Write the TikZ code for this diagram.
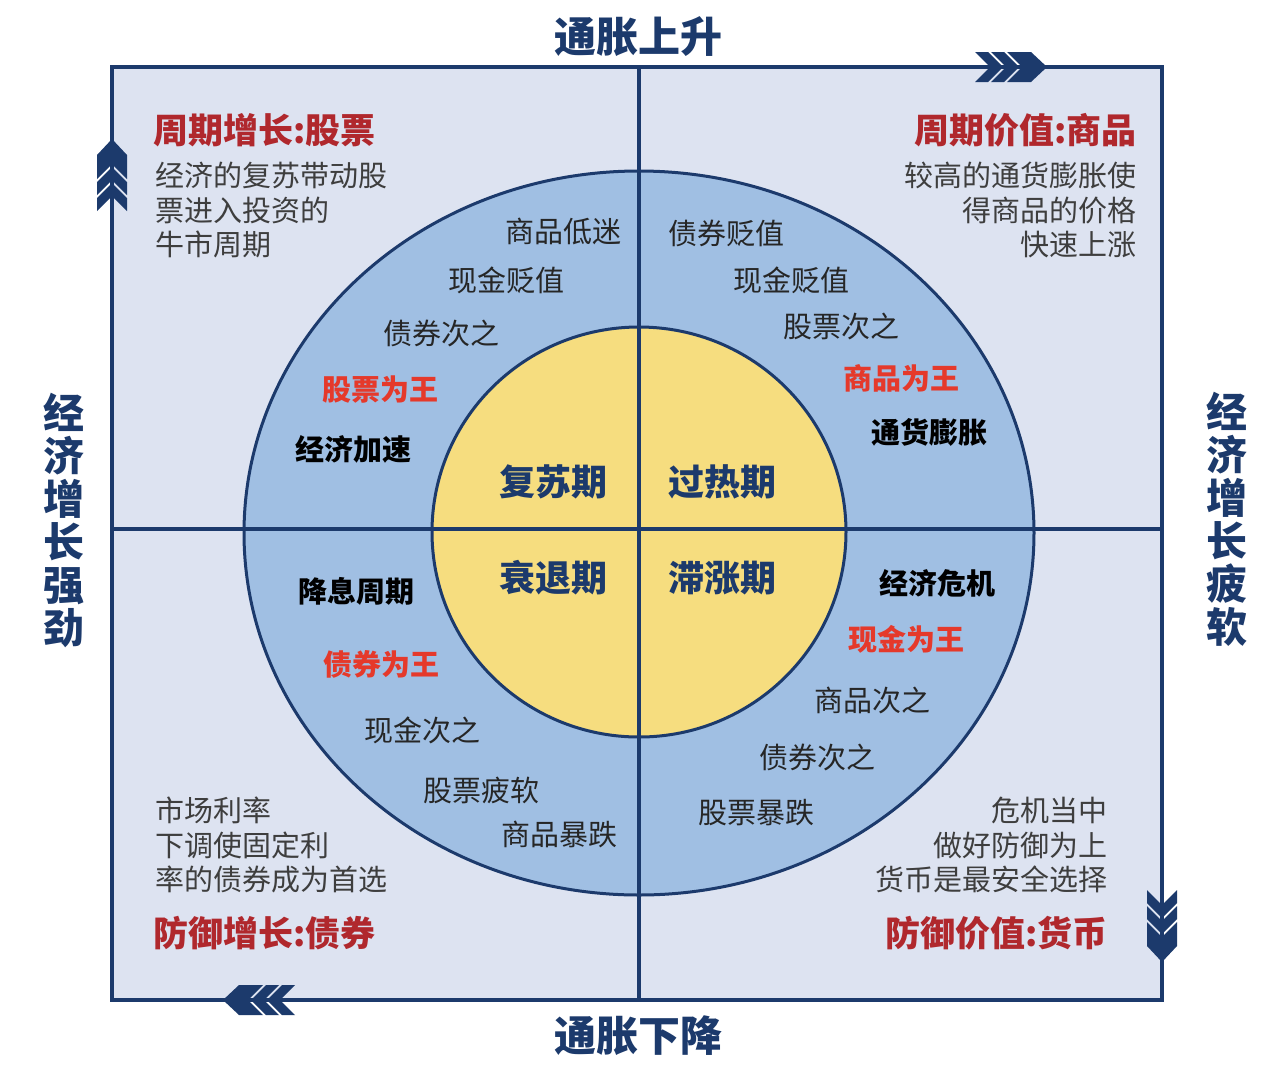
\documentclass[tikz,border=0pt]{standalone}
\usepackage{fontspec}
\setmainfont{Noto Sans CJK SC}
\definecolor{navy}{HTML}{1C3A6C}
\definecolor{bgl}{HTML}{DDE3F1}
\definecolor{ring}{HTML}{A0BFE3}
\definecolor{core}{HTML}{F6DD7F}
\definecolor{tred}{HTML}{B0282D}
\definecolor{lred}{HTML}{E5392B}
\definecolor{gtxt}{HTML}{3E3E3E}
\begin{document}
\begin{tikzpicture}[x=1pt,y=-1pt,
  axis/.style={font=\fontsize{42}{44}\selectfont\bfseries, text=navy, inner sep=0pt},
  side/.style={font=\fontsize{41}{43}\selectfont\bfseries, text=navy, inner sep=0pt, align=center},
  qtitle/.style={font=\fontsize{35}{37}\selectfont\bfseries, text=tred, inner sep=0pt},
  desc/.style={font=\fontsize{29}{34.5}\selectfont, text=gtxt, inner sep=0pt},
  rl/.style={font=\fontsize{29}{31}\selectfont, text=black!85, inner sep=0pt},
  rb/.style={font=\fontsize{29}{31}\selectfont\bfseries, text=black, inner sep=0pt},
  rr/.style={font=\fontsize{29}{31}\selectfont\bfseries, text=lred, inner sep=0pt},
  phase/.style={font=\fontsize{36}{38}\selectfont\bfseries, text=navy, inner sep=0pt},
  feather/.pic={
    \fill[navy] (0,0) -- (-16,15) -- (-40,15) -- (-25,0) -- (-40,-15) -- (-16,-15) -- cycle;
    \fill[navy] (-28,0) -- (-43,15) -- (-56,15) -- (-41,0) -- (-56,-15) -- (-43,-15) -- cycle;
    \fill[navy] (-44,0) -- (-59,15) -- (-72,15) -- (-57,0) -- (-72,-15) -- (-59,-15) -- cycle;
  }]
\useasboundingbox[fill=white] (0,0) rectangle (1286,1080);
% panels
\fill[bgl] (112,67) rectangle (1162,1000);
\fill[ring, draw=navy, line width=3pt] (639,533) ellipse [x radius=395, y radius=362];
\fill[core, draw=navy, line width=3pt] (639,532) ellipse [x radius=207, y radius=205];
\coordinate (vt) at (639,67);
\coordinate (vb) at (639,1000);
\coordinate (hl) at (112,529);
\coordinate (hr) at (1162,529);
\draw[navy, line width=3.2pt] (vt) -- (vb);
\draw[navy, line width=3.2pt] (hl) -- (hr);
\draw[navy, line width=3.6pt] (112,67) rectangle (1162,1000);
% arrows
\pic at (1047,67) {feather};
\pic[rotate=90] at (112,139) {feather};
\pic[rotate=180] at (223,1000) {feather};
\pic[rotate=-90] at (1162,962) {feather};
% axis labels
\node[axis] (up) at (638,37) {通胀上升};
\node[axis] (down) at (638,1036) {通胀下降};
\node[side] (strong) at (64,520) {经\\济\\增\\长\\强\\劲};
\node[side] (weak) at (1227,519) {经\\济\\增\\长\\疲\\软};
% quadrant titles
\node[qtitle, anchor=west] (t1) at (153,130) {周期增长:股票};
\node[qtitle, anchor=east] (t2) at (1137,130) {周期价值:商品};
\node[qtitle, anchor=west] (t3) at (153,933) {防御增长:债券};
\node[qtitle, anchor=east] (t4) at (1108,933) {防御价值:货币};
% descriptions
\node[desc, anchor=north west, align=left] (d1) at (155,162) {经济的复苏带动股\\票进入投资的\\牛市周期};
\node[desc, anchor=north east, align=right] (d2) at (1137,162) {较高的通货膨胀使\\得商品的价格\\快速上涨};
\node[desc, anchor=north west, align=left] (d3) at (155,797) {市场利率\\下调使固定利\\率的债券成为首选};
\node[desc, anchor=north east, align=right] (d4) at (1108,797) {危机当中\\做好防御为上\\货币是最安全选择};
% ring labels TL
\node[rl] (a1) at (563,231) {商品低迷};
\node[rl] (a2) at (506,280) {现金贬值};
\node[rl] (a3) at (441,333) {债券次之};
\node[rr] (a4) at (380,390) {股票为王};
\node[rb] (a5) at (353,449) {经济加速};
% ring labels TR
\node[rl] (b1) at (726,233) {债券贬值};
\node[rl] (b2) at (791,280) {现金贬值};
\node[rl] (b3) at (841,326) {股票次之};
\node[rr] (b4) at (901,378) {商品为王};
\node[rb] (b5) at (929,432) {通货膨胀};
% ring labels BL
\node[rb] (c1) at (356,591) {降息周期};
\node[rr] (c2) at (381,664) {债券为王};
\node[rl] (c3) at (422,730) {现金次之};
\node[rl] (c4) at (481,790) {股票疲软};
\node[rl] (c5) at (559,834) {商品暴跌};
% ring labels BR
\node[rb] (e1) at (937,583) {经济危机};
\node[rr] (e2) at (906,639) {现金为王};
\node[rl] (e3) at (872,700) {商品次之};
\node[rl] (e4) at (817,757) {债券次之};
\node[rl] (e5) at (756,813) {股票暴跌};
% phases
\node[phase] (p1) at (553,482) {复苏期};
\node[phase] (p2) at (722,482) {过热期};
\node[phase] (p3) at (553,578) {衰退期};
\node[phase] (p4) at (722,578) {滞涨期};
\end{tikzpicture}
\end{document}
